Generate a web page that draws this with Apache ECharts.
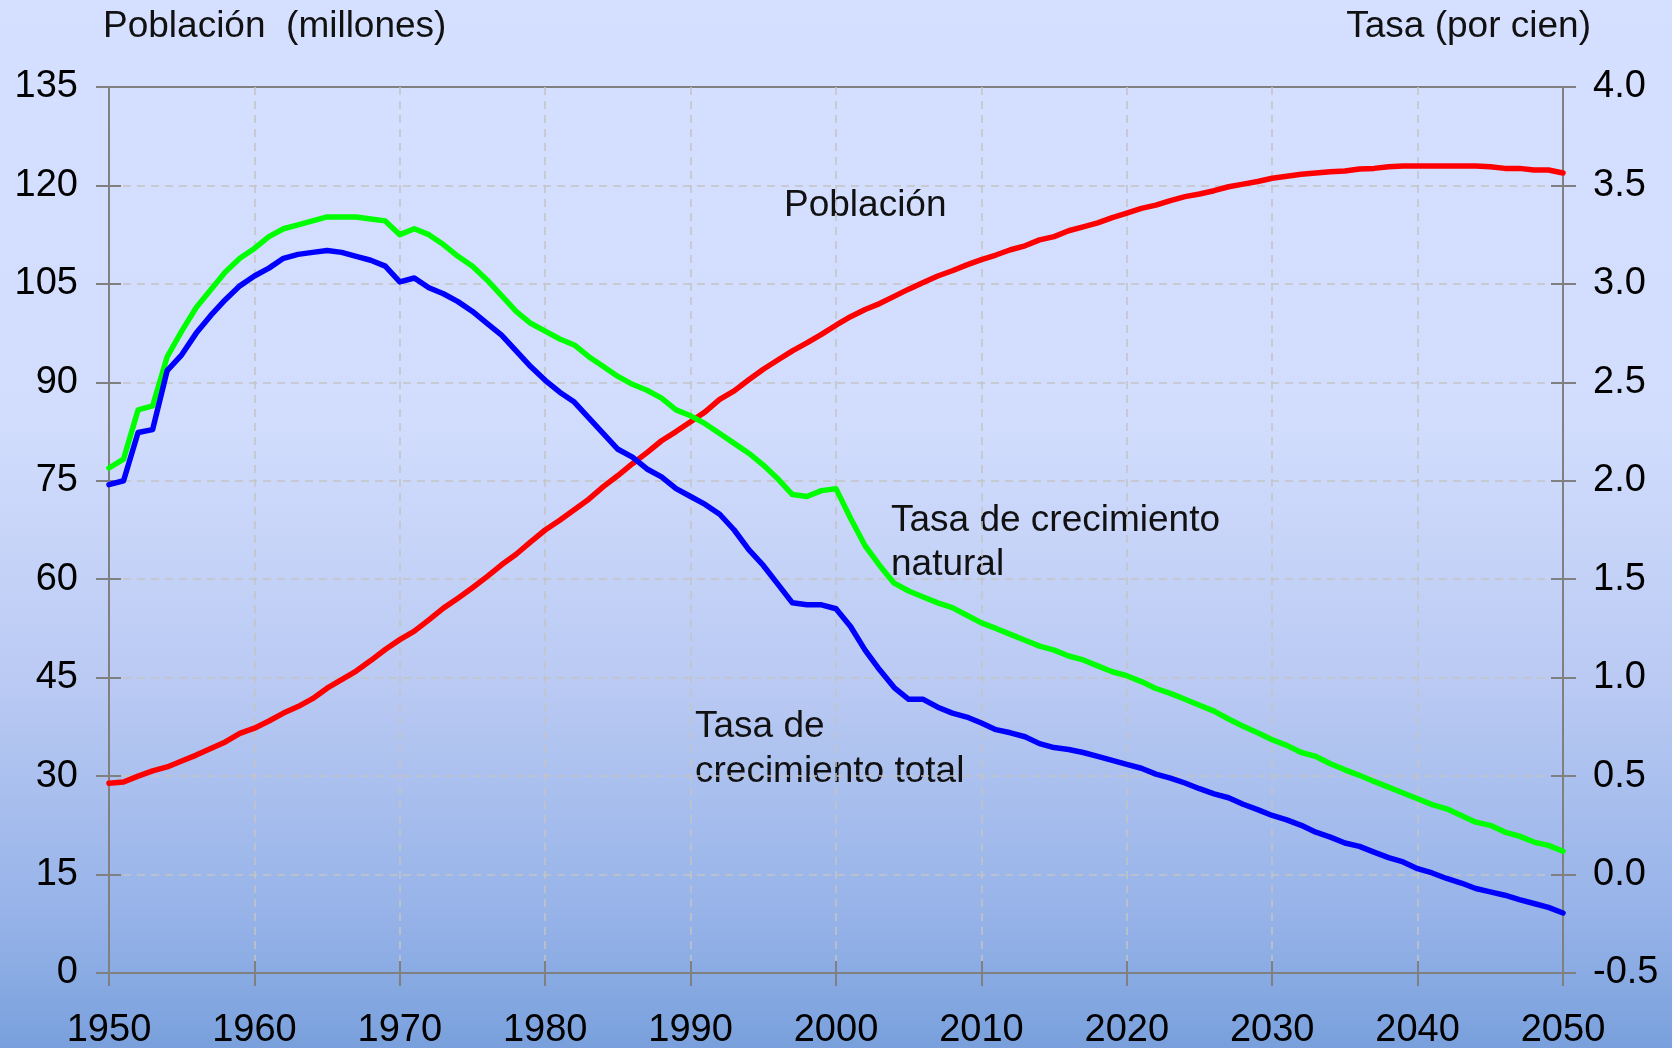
<!DOCTYPE html>
<html>
<head>
<meta charset="utf-8">
<title>Población y tasas de crecimiento</title>
<script src="https://cdn.jsdelivr.net/npm/echarts@6/dist/echarts.min.js"></script>
<style>
	html, body {margin: 0; padding: 0;}
	#chart {width: 1672px; height: 1048px;}
</style>
</head>
<body>
<div id="chart"></div>
<script>
var years = [];
for (var y = 1950; y <= 2050; y++) years.push(y);

// población (millones), eje izquierdo
var poblacion = [
	28.9, 29.1, 30.0, 30.8, 31.4, 32.3, 33.2, 34.2, 35.2, 36.5,
	37.3, 38.4, 39.6, 40.6, 41.8, 43.4, 44.7, 46.0, 47.6, 49.3,
	50.8, 52.1, 53.8, 55.6, 57.1, 58.7, 60.4, 62.2, 63.8, 65.7,
	67.5, 69.0, 70.6, 72.2, 74.1, 75.8, 77.6, 79.3, 81.1, 82.5,
	84.0, 85.5, 87.4, 88.7, 90.4, 92.0, 93.4, 94.8, 96.0, 97.3,
	98.7, 100.0, 101.1, 102.0, 103.1, 104.2, 105.2, 106.2, 107.0, 107.9,
	108.7, 109.4, 110.2, 110.8, 111.7, 112.2, 113.1, 113.7, 114.3, 115.1,
	115.8, 116.5, 117.0, 117.7, 118.3, 118.7, 119.2, 119.8, 120.2, 120.6,
	121.1, 121.4, 121.7, 121.9, 122.1, 122.2, 122.5, 122.6, 122.85, 122.95,
	122.95, 122.95, 122.95, 122.95, 122.95, 122.85, 122.6, 122.6, 122.35, 122.35,
	121.9
];

// tasa de crecimiento natural (por cien), eje derecho
var tasa_natural = [
	2.065, 2.11, 2.36, 2.38, 2.63, 2.76, 2.88, 2.97, 3.06, 3.13,
	3.18, 3.24, 3.28, 3.30, 3.32, 3.34, 3.34, 3.34, 3.33, 3.32,
	3.25, 3.28, 3.25, 3.20, 3.14, 3.09, 3.02, 2.94, 2.86, 2.80,
	2.76, 2.72, 2.69, 2.63, 2.58, 2.53, 2.49, 2.46, 2.42, 2.36,
	2.33, 2.29, 2.24, 2.19, 2.14, 2.08, 2.01, 1.93, 1.92, 1.95,
	1.96, 1.81, 1.67, 1.57, 1.48, 1.44, 1.41, 1.38, 1.356, 1.317,
	1.278, 1.25, 1.22, 1.19, 1.16, 1.14, 1.11, 1.09, 1.06, 1.03,
	1.01, 0.98, 0.945, 0.92, 0.89, 0.86, 0.83, 0.79, 0.753, 0.72,
	0.685, 0.656, 0.62, 0.60, 0.563, 0.532, 0.504, 0.473, 0.444, 0.414,
	0.385, 0.355, 0.334, 0.30, 0.266, 0.25, 0.216, 0.195, 0.165, 0.148,
	0.118
];

// tasa de crecimiento total (por cien), eje derecho
var tasa_total = [
	1.98, 2.00, 2.245, 2.26, 2.56, 2.64, 2.75, 2.84, 2.92, 2.99,
	3.04, 3.08, 3.13, 3.15, 3.16, 3.17, 3.16, 3.14, 3.12, 3.09,
	3.01, 3.03, 2.98, 2.95, 2.91, 2.86, 2.80, 2.74, 2.66, 2.58,
	2.51, 2.45, 2.40, 2.32, 2.24, 2.16, 2.12, 2.06, 2.02, 1.96,
	1.92, 1.88, 1.83, 1.75, 1.65, 1.57, 1.475, 1.38, 1.37, 1.37,
	1.35, 1.26, 1.14, 1.04, 0.95, 0.89, 0.89, 0.85, 0.82, 0.80,
	0.77, 0.736, 0.72, 0.70, 0.665, 0.645, 0.635, 0.62, 0.60, 0.58,
	0.56, 0.54, 0.51, 0.49, 0.465, 0.436, 0.41, 0.39, 0.357, 0.33,
	0.30, 0.278, 0.25, 0.215, 0.19, 0.16, 0.143, 0.114, 0.086, 0.064,
	0.03, 0.008, -0.02, -0.043, -0.071, -0.088, -0.105, -0.127, -0.147, -0.167,
	-0.195
];

var font = "'Liberation Sans', Arial, sans-serif";
var axis_gray = '#808080';
var grid_dash = {color: '#c4c4c4', width: 1.5, type: [8, 6]};

function pairs(values){
	var out = [];
	for (var i = 0; i < years.length; i++) out.push([years[i], values[i]]);
	return out;
}

function lineSeries(name, values, color, yIndex){
	return {
		name: name,
		type: 'line',
		xAxisIndex: 0,
		yAxisIndex: yIndex,
		data: pairs(values),
		showSymbol: false,
		symbol: 'none',
		lineStyle: {color: color, width: 5.5, cap: 'round', join: 'round'},
		z: 3
	};
}

window.onload = function(){
	var chart = echarts.init(document.getElementById('chart'), null, {renderer: 'canvas'});
	var tickStyle = {color: axis_gray, width: 2};
	chart.setOption({
		animation: false,
		grid: {
			left: 109, right: 109, top: 87, bottom: 75,
			outerBoundsMode: 'none',
			show: true,
			borderColor: axis_gray,
			borderWidth: 2,
			backgroundColor: 'transparent'
		},
		graphic: [
			{
				type: 'rect', z: -10, silent: true,
				shape: {x: 0, y: 0, width: 1672, height: 1048},
				style: {
					fill: new echarts.graphic.LinearGradient(0, 0, 0, 1, [
						{offset: 0, color: '#d5dfff'},
						{offset: 0.4, color: '#d2ddfd'},
						{offset: 0.65, color: '#bacaf3'},
						{offset: 0.88, color: '#95b2e8'},
						{offset: 1, color: '#79a0dc'}
					])
				}
			},
			{
				type: 'text', left: 103, top: 8,
				style: {text: 'Población  (millones)', font: '37px ' + font, fill: '#111'}
			},
			{
				type: 'text', right: 81, top: 8,
				style: {text: 'Tasa (por cien)', font: '37px ' + font, fill: '#111'}
			},
			{
				type: 'text', left: 784, top: 187,
				style: {text: 'Población', font: '37px ' + font, fill: '#111'}
			},
			{
				type: 'text', left: 891, top: 499,
				style: {text: 'Tasa de crecimiento\nnatural', font: '37px ' + font, lineHeight: 44, fill: '#111'}
			},
			{
				type: 'text', left: 695, top: 704,
				style: {text: 'Tasa de\ncrecimiento total', font: '37px ' + font, lineHeight: 45, fill: '#111'}
			}
		],
		xAxis: [
			{
				type: 'value', min: 1950, max: 2050, interval: 10, position: 'bottom',
				axisLine: {show: true, onZero: false, lineStyle: tickStyle},
				axisTick: {show: true, length: 13, lineStyle: tickStyle},
				axisLabel: {
					margin: 39, color: '#000', fontSize: 38, fontFamily: font,
					formatter: function(v){ return String(v); }
				},
				splitLine: {show: true, showMinLine: false, showMaxLine: false, lineStyle: grid_dash}
			},
			{
				type: 'value', min: 1950, max: 2050, interval: 10, position: 'bottom',
				axisLine: {show: false, onZero: false},
				axisTick: {show: true, inside: true, length: 12, lineStyle: tickStyle},
				axisLabel: {show: false},
				splitLine: {show: false}
			}
		],
		yAxis: [
			{
				type: 'value', min: 0, max: 135, interval: 15, position: 'left',
				axisLine: {show: true, onZero: false, lineStyle: tickStyle},
				axisTick: {show: true, length: 13, lineStyle: tickStyle},
				axisLabel: {margin: 31, color: '#000', fontSize: 38, fontFamily: font},
				splitLine: {show: true, showMinLine: false, showMaxLine: false, lineStyle: grid_dash}
			},
			{
				type: 'value', min: -0.5, max: 4, interval: 0.5, position: 'right',
				axisLine: {show: true, onZero: false, lineStyle: tickStyle},
				axisTick: {show: true, length: 13, lineStyle: tickStyle},
				axisLabel: {
					margin: 30, color: '#000', fontSize: 38, fontFamily: font,
					formatter: function(v){ return v.toFixed(1); }
				},
				splitLine: {show: false}
			},
			{
				type: 'value', min: 0, max: 135, interval: 15, position: 'left',
				axisLine: {show: false, onZero: false},
				axisTick: {show: true, inside: true, length: 12, lineStyle: tickStyle},
				axisLabel: {show: false},
				splitLine: {show: false}
			},
			{
				type: 'value', min: -0.5, max: 4, interval: 0.5, position: 'right',
				axisLine: {show: false, onZero: false},
				axisTick: {show: true, inside: true, length: 12, lineStyle: tickStyle},
				axisLabel: {show: false},
				splitLine: {show: false}
			}
		],
		series: [
			lineSeries('Población', poblacion, '#ff0000', 0),
			lineSeries('Tasa de crecimiento natural', tasa_natural, '#00ff00', 1),
			lineSeries('Tasa de crecimiento total', tasa_total, '#0000ff', 1)
		]
	});
};
</script>
</body>
</html>
